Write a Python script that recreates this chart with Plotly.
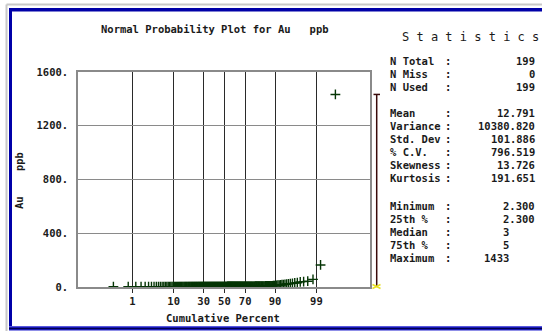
import numpy as np
import plotly.graph_objects as go
from statistics import NormalDist

# Au assay results (ppb): distinct sorted values and the number of samples at each
au_levels = [2.3, 3, 4, 5, 6, 7, 8, 9, 10,
             11, 12, 13, 14, 15, 17, 18, 20, 22, 24,
             25, 27, 30, 32, 38, 40, 43, 57, 164, 1433]
au_counts = [60, 45, 30, 20, 8, 6, 6, 2, 2,
             1, 1, 1, 1, 1, 1, 1, 1, 1, 1,
             1, 1, 1, 1, 1, 1, 1, 1, 1, 1]

prob_ticks = [1, 10, 30, 50, 70, 90, 99]
y_ticks = [0, 400, 800, 1200, 1600]
y_tick_text = ["0.", "400.", "800.", "1200.", "1600."]

stat_labels = ["N Total", "N Miss", "N Used",
               "Mean", "Variance", "Std. Dev", "% C.V.", "Skewness", "Kurtosis",
               "Minimum", "25th %", "Median", "75th %", "Maximum"]
stat_values = ["199", "0", "199",
               "12.791", "10380.820", "101.886", "796.519", "13.726", "191.651",
               "2.300", "2.300", "3", "5", "1433"]

# sorted sample values and their normal-score plotting positions
values = np.repeat(au_levels, au_counts)
n = len(values)
nd = NormalDist()
ranks = np.arange(1, n + 1)
zscores = [nd.inv_cdf((r - 0.5) / n) for r in ranks]
tick_z = [nd.inv_cdf(p / 100.0) for p in prob_ticks]

W, H = 542, 331
L, R, T, B = 78, 370, 72, 287


def px(x):
    return (x - L) / (R - L)


def py(y):
    return (B - y) / (B - T)


MONO = "DejaVu Sans Mono"
INK = "#1a1a1a"
NB = "\u00a0"

fig = go.Figure()
fig.add_trace(go.Scatter(
    x=zscores, y=values, mode="markers",
    marker=dict(symbol="cross-thin", size=7,
                line=dict(color="#053505", width=1.4)),
    hoverinfo="skip", showlegend=False,
))

fig.update_layout(
    width=W, height=H,
    margin=dict(l=L, r=W - R, t=T, b=H - B),
    paper_bgcolor="white", plot_bgcolor="white",
    showlegend=False,
    font=dict(family=MONO, color=INK),
    xaxis=dict(
        range=[-3.70, 3.68], tickmode="array", tickvals=tick_z,
        ticktext=[str(p) for p in prob_ticks],
        showgrid=True, gridcolor="#2a2a2a", gridwidth=1,
        ticks="outside", ticklen=4, tickcolor="#2a2a2a",
        showline=True, mirror=True, linecolor="#8a8a8a", linewidth=1.5,
        zeroline=False, tickfont=dict(family=MONO, size=10.5, color=INK,
                                      weight="bold"),
        fixedrange=True,
    ),
    yaxis=dict(
        range=[0, 1600], tickmode="array", tickvals=y_ticks,
        ticktext=y_tick_text,
        showgrid=True, gridcolor="#8a8a8a", gridwidth=1,
        ticks="", ticklabelstandoff=6,
        showline=True, mirror=True, linecolor="#8a8a8a", linewidth=1.5,
        zeroline=False, tickfont=dict(family=MONO, size=10.5, color=INK,
                                      weight="bold"),
        fixedrange=True,
    ),
)

shapes = []
# window frame
shapes.append(dict(type="line", xref="paper", yref="paper",
                   x0=px(6.5), x1=px(W), y0=py(4.5), y1=py(4.5),
                   line=dict(color="#c8c8c8", width=2)))
shapes.append(dict(type="line", xref="paper", yref="paper",
                   x0=px(6.5), x1=px(6.5), y0=py(4.5), y1=py(H),
                   line=dict(color="#c8c8c8", width=2)))
shapes.append(dict(type="rect", xref="paper", yref="paper",
                   x0=px(9), x1=px(W), y0=py(8), y1=py(11.5),
                   fillcolor="#0000a8", line=dict(width=0)))
shapes.append(dict(type="rect", xref="paper", yref="paper",
                   x0=px(9), x1=px(12), y0=py(8), y1=py(326),
                   fillcolor="#0000a8", line=dict(width=0)))
shapes.append(dict(type="rect", xref="paper", yref="paper",
                   x0=px(9), x1=px(W), y0=py(326.3), y1=py(330.5),
                   fillcolor="#2020d0", line=dict(width=0)))
shapes.append(dict(type="line", xref="paper", yref="paper",
                   x0=px(9), x1=px(W), y0=py(328.4), y1=py(328.4),
                   line=dict(color="#000050", width=1.5)))

# range whisker beside the plot: minimum to maximum, with quartile marker
wx = px(376.7)
shapes.append(dict(type="line", xref="paper", yref="y",
                   x0=wx, x1=wx, y0=values.min(), y1=values.max(),
                   line=dict(color="#3a0a0a", width=1.5)))
shapes.append(dict(type="line", xref="paper", yref="y",
                   x0=px(373.5), x1=px(380), y0=values.max(), y1=values.max(),
                   line=dict(color="#3a0a0a", width=1.5)))
shapes.append(dict(type="line", xref="paper", yref="paper",
                   x0=px(372.5), x1=px(380.5), y0=py(284.5), y1=py(288.5),
                   line=dict(color="#e8e020", width=1.5)))
shapes.append(dict(type="line", xref="paper", yref="paper",
                   x0=px(372.5), x1=px(380.5), y0=py(288.5), y1=py(284.5),
                   line=dict(color="#e8e020", width=1.5)))
fig.update_layout(shapes=shapes)

ann = []
ann.append(dict(text="Normal Probability Plot for Au" + NB * 3 + "ppb",
                x=px(215), y=py(29), xref="paper", yref="paper",
                showarrow=False, xanchor="center", yanchor="middle",
                font=dict(family=MONO, size=10.5, color=INK, weight="bold")))
ann.append(dict(text="Cumulative Percent",
                x=px(223), y=py(318), xref="paper", yref="paper",
                showarrow=False, xanchor="center", yanchor="middle",
                font=dict(family=MONO, size=10.5, color=INK, weight="bold")))
ann.append(dict(text="Au" + NB * 4 + "ppb", textangle=-90,
                x=px(19), y=py(181), xref="paper", yref="paper",
                showarrow=False, xanchor="center", yanchor="middle",
                font=dict(family=MONO, size=10.5, color=INK, weight="bold")))
ann.append(dict(text=NB.join("Statistics"),
                x=px(470), y=py(37), xref="paper", yref="paper",
                showarrow=False, xanchor="center", yanchor="middle",
                font=dict(family=MONO, size=12, color=INK)))

STAT_SIZE = 10.5
row_y = [61, 74, 87, 113, 126, 139, 152, 165, 178, 206, 219, 232, 245, 258]
for lab, val, yy in zip(stat_labels, stat_values, row_y):
    ann.append(dict(text=lab, x=px(388), y=py(yy), xref="paper", yref="paper",
                    showarrow=False, xanchor="left", yanchor="middle",
                    font=dict(family=MONO, size=STAT_SIZE, color=INK, weight="bold")))
    ann.append(dict(text=":", x=px(447.5), y=py(yy), xref="paper", yref="paper",
                    showarrow=False, xanchor="center", yanchor="middle",
                    font=dict(family=MONO, size=STAT_SIZE, color=INK, weight="bold")))
    right = 511 if lab in ("Median", "75th %", "Maximum") else 537
    ann.append(dict(text=val, x=px(right), y=py(yy), xref="paper", yref="paper",
                    showarrow=False, xanchor="right", yanchor="middle",
                    font=dict(family=MONO, size=STAT_SIZE, color=INK, weight="bold")))
fig.update_layout(annotations=ann)

fig.write_html("out.html")
